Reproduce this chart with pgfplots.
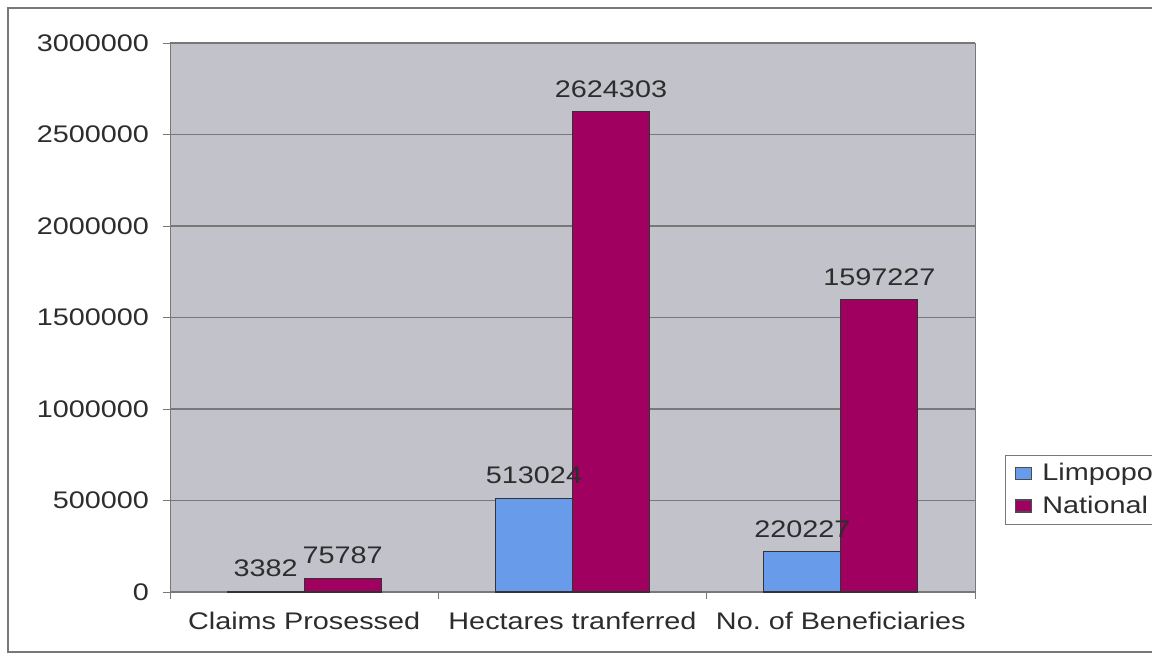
\documentclass[border=0pt]{standalone}
\usepackage{fontspec}
\setmainfont{Liberation Sans}[FakeStretch=1.2]
\usepackage{pgfplots}
\pgfplotsset{compat=1.18}
\definecolor{limpopo}{RGB}{105,155,235}
\definecolor{national}{RGB}{160,0,95}
\definecolor{plotbg}{RGB}{194,194,202}
\definecolor{txt}{RGB}{45,45,45}
\definecolor{framegray}{RGB}{120,120,120}

\begin{document}
\begin{tikzpicture}[x=1pt,y=1pt]
\begin{axis}[
  at={(85pt,31.5pt)}, anchor=south west,
  scale only axis, width=402.5pt, height=274.5pt,
  ybar=0pt, bar width=38.5pt,
  xmin=-0.5, xmax=2.5, ymin=0, ymax=3000000,
  xtick={0,1,2},
  xticklabels={Claims Prosessed, Hectares tranferred, No.\ of Beneficiaries},
  major x tick style={draw=none},
  extra x ticks={-0.5,0.5,1.5,2.5}, extra x tick labels={},
  extra x tick style={major x tick style={draw=framegray}},
  xtick pos=bottom, ytick pos=left,
  ytick={0,500000,1000000,1500000,2000000,2500000,3000000},
  scaled y ticks=false,
  yticklabel style={/pgf/number format/fixed, /pgf/number format/1000 sep={}, xshift=-3.5pt},
  xticklabel style={yshift=-3pt},
  /pgf/number format/assume math mode=true,
  tick align=outside, major tick length=3.5pt,
  tick style={draw=framegray},
  axis background/.style={fill=plotbg},
  axis line style={framegray},
  ymajorgrids, grid style={framegray, line width=0.6pt},
  tick label style={font=\fontsize{12}{14}\selectfont, text=txt},
  point meta=explicit symbolic,
  nodes near coords,
  nodes near coords style={font=\fontsize{12}{14}\selectfont, text=txt, yshift=3.5pt},
  legend style={at={(1.037,0.2495)}, anchor=north west, draw=framegray, fill=white,
    font=\fontsize{12}{14}\selectfont, text=txt, row sep=2pt, inner xsep=5pt, inner ysep=2pt},
  legend cell align=left,
  legend image code/.code={\draw[#1, draw=black!70] (1pt,-3pt) rectangle (9pt,3pt); \path (12pt,0pt);},
]
\addplot[fill=limpopo, draw=black!80, line width=0.6pt] coordinates {(0,3382) [3382] (1,513024) [513024] (2,220227) [220227]};
\addplot[fill=national, draw=black!80, line width=0.6pt] coordinates {(0,75787) [75787] (1,2624303) [2624303] (2,1597227) [1597227]};
\legend{Limpopo, National}
\end{axis}
\draw[framegray, line width=0.8pt] (600,323.5) -- (4,323.5) -- (4,1.5) -- (600,1.5);
\pgfresetboundingbox
\path (0,0) rectangle (576,327.5);
\end{tikzpicture}
\end{document}
